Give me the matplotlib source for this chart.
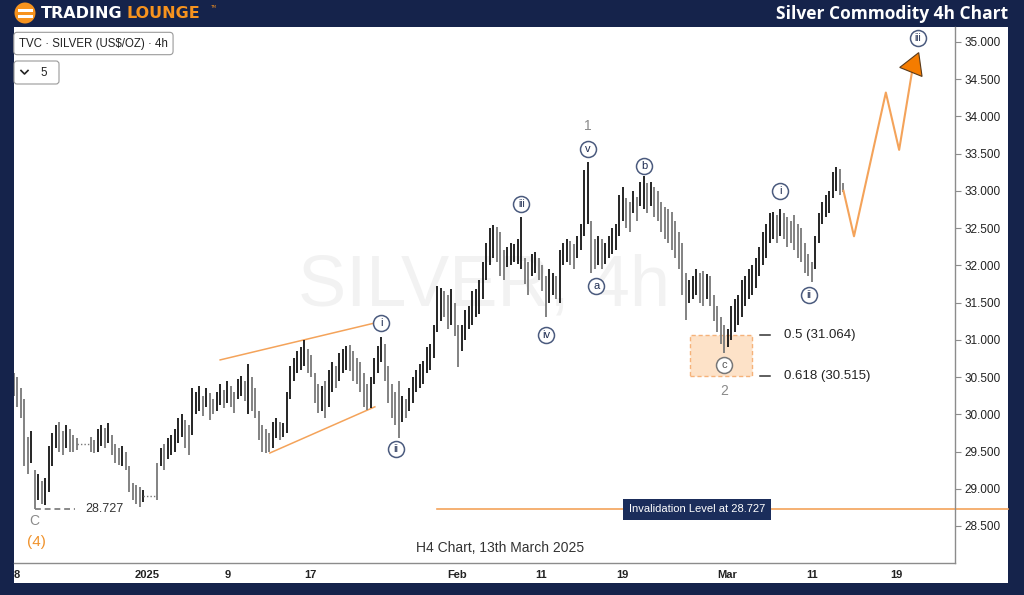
#!/usr/bin/env python3
"""Silver 4h Elliott-wave chart in the TradingLounge style."""

import matplotlib
matplotlib.use("Agg")
import matplotlib.pyplot as plt
import matplotlib.patches as mpatches
import matplotlib.transforms as mtransforms
import numpy as np

NAVY = "#15234b"
ORANGE = "#f4a35a"
WAVE_EDGE = "#4b5b7e"
WAVE_TEXT = "#1f2d52"
FONT = ["Liberation Sans", "DejaVu Sans"]
nan = np.nan

# 4h bars (high / low), one entry per bar; nan = holiday gap
highs = [
    30.55, 30.50, 30.35, 30.20, 29.70, 29.78, 29.25, 29.20, 29.10, 29.15,
    29.58, 29.75, 29.85, 29.90, 29.78, 29.85, 29.80, 29.72, 29.68, nan,
    nan, nan, 29.70, 29.65, 29.80, 29.85, 29.82, 29.88, 29.72, 29.60,
    29.55, 29.58, 29.50, 29.30, 29.08, 29.05, 29.02, 28.98, nan, nan,
    nan, 29.35, 29.55, 29.60, 29.68, 29.72, 29.80, 29.95, 30.00, 29.92,
    29.85, 30.35, 30.30, 30.38, 30.25, 30.35, 30.28, 30.20, 30.30, 30.40,
    30.32, 30.45, 30.38, 30.30, 30.48, 30.52, 30.45, 30.68, 30.50, 30.35,
    30.05, 29.85, 29.80, 29.75, 29.90, 29.95, 29.90, 29.88, 30.30, 30.65,
    30.75, 30.85, 30.90, 31.00, 30.88, 30.80, 30.55, 30.40, 30.38, 30.45,
    30.60, 30.70, 30.65, 30.82, 30.88, 30.92, 30.93, 30.85, 30.75, 30.70,
    30.55, 30.40, 30.50, 30.75, 30.92, 31.04, 30.95, 30.65, 30.40, 30.30,
    30.45, 30.25, 30.20, 30.35, 30.50, 30.60, 30.68, 30.72, 30.90, 30.95,
    31.20, 31.72, 31.70, 31.65, 31.60, 31.68, 31.50, 31.20, 31.20, 31.40,
    31.45, 31.65, 31.68, 31.80, 32.05, 32.30, 32.50, 32.54, 32.52, 32.45,
    32.20, 32.25, 32.30, 32.28, 32.35, 32.65, 32.10, 32.05, 32.15, 32.18,
    32.10, 32.00, 31.85, 31.95, 31.90, 31.85, 32.20, 32.30, 32.35, 32.32,
    32.28, 32.40, 32.55, 33.28, 33.39, 32.60, 32.35, 32.40, 32.35, 32.30,
    32.40, 32.50, 32.55, 32.95, 33.05, 32.90, 32.85, 33.00, 32.92, 33.12,
    33.20, 33.10, 33.12, 33.05, 33.00, 32.85, 32.78, 32.75, 32.72, 32.60,
    32.45, 32.30, 31.90, 31.80, 31.85, 31.95, 31.90, 31.92, 31.88, 31.85,
    31.60, 31.45, 31.30, 31.20, 31.15, 31.45, 31.55, 31.60, 31.80, 31.85,
    31.95, 32.00, 32.10, 32.25, 32.45, 32.55, 32.70, 32.72, 32.68, 32.76,
    32.70, 32.65, 32.60, 32.68, 32.55, 32.50, 32.30, 32.15, 32.05, 32.40,
    32.70, 32.85, 32.95, 33.00, 33.25, 33.32, 33.30, 33.10,
]
lows = [
    30.25, 30.10, 29.95, 29.30, 29.20, 29.35, 28.727, 28.85, 28.80, 28.78,
    28.95, 29.30, 29.55, 29.50, 29.45, 29.55, 29.50, 29.50, 29.52, nan,
    nan, nan, 29.50, 29.48, 29.50, 29.58, 29.55, 29.62, 29.45, 29.35,
    29.32, 29.30, 29.25, 28.95, 28.85, 28.80, 28.76, 28.82, nan, nan,
    nan, 28.85, 29.30, 29.25, 29.40, 29.45, 29.50, 29.62, 29.70, 29.55,
    29.45, 29.72, 30.00, 30.05, 29.98, 30.10, 29.92, 30.00, 30.05, 30.12,
    30.08, 30.15, 30.10, 30.02, 30.20, 30.25, 30.18, 30.00, 30.05, 29.95,
    29.65, 29.50, 29.48, 29.50, 29.55, 29.68, 29.65, 29.70, 29.75, 30.20,
    30.45, 30.55, 30.60, 30.65, 30.55, 30.50, 30.15, 30.02, 30.05, 29.95,
    30.10, 30.30, 30.35, 30.45, 30.55, 30.60, 30.58, 30.45, 30.40, 30.30,
    30.10, 30.06, 30.08, 30.40, 30.55, 30.70, 30.45, 30.15, 29.95, 29.85,
    29.68, 29.90, 29.95, 30.05, 30.15, 30.30, 30.35, 30.40, 30.55, 30.60,
    30.75, 31.10, 31.25, 31.30, 31.15, 31.20, 31.05, 30.64, 30.85, 31.00,
    31.15, 31.20, 31.30, 31.35, 31.55, 31.80, 32.00, 32.10, 32.05, 31.85,
    31.80, 31.98, 32.00, 32.05, 32.02, 31.95, 31.75, 31.60, 31.85, 31.90,
    31.80, 31.65, 31.31, 31.50, 31.60, 31.55, 31.50, 32.00, 32.05, 32.00,
    31.95, 32.10, 32.20, 32.40, 32.55, 31.90, 31.95, 32.00, 31.95, 32.02,
    32.10, 32.15, 32.20, 32.40, 32.60, 32.50, 32.45, 32.70, 32.60, 32.80,
    32.75, 32.70, 32.80, 32.65, 32.60, 32.45, 32.35, 32.30, 32.20, 32.10,
    31.95, 31.60, 31.27, 31.50, 31.55, 31.60, 31.50, 31.45, 31.55, 31.45,
    31.25, 31.10, 30.95, 30.82, 30.90, 31.00, 31.10, 31.20, 31.30, 31.45,
    31.55, 31.60, 31.70, 31.85, 32.00, 32.10, 32.30, 32.35, 32.30, 32.40,
    32.35, 32.25, 32.30, 32.20, 32.10, 32.05, 31.90, 31.85, 31.78, 31.95,
    32.30, 32.55, 32.65, 32.70, 32.90, 33.00, 32.95, 32.98,
]

# projected path (bar index, price) after the last bar
proj_x = [237, 240, 249.1, 252.9, 256.9]
proj_y = [33.0, 32.39, 34.32, 33.55, 34.69]

tick_pos = [0.9, 38, 61.1, 84.6, 126.6, 150.6, 173.7, 203.7, 228, 252]
tick_labels = ["8", "2025", "9", "17", "Feb", "11", "19", "Mar", "11", "19"]

invalidation = 28.727
fib_levels = [(0.5, 31.064), (0.618, 30.515)]

# wedge boundary lines (bar index, price)
wedge_upper = ([58.9, 103.1], [30.73, 31.226])
wedge_lower = ([73.1, 103.1], [29.48, 30.10])

# wave labels: bar index, text, anchor (high/low), pixel offset
waves = [
    (105, "i", "high", (0, 14)),
    (110, "ii", "low", (-3, -11)),
    (145, "iii", "high", (0, 13)),
    (152, "iv", "low", (0, -18)),
    (164, "v", "high", (0, 13)),
    (165, "a", "low", (5, -13)),
    (180, "b", "high", (0, 10)),
    (219, "i", "high", (0, 18)),
    (228, "ii", "low", (-3, -13)),
]

W, H = 1024, 595
fig = plt.figure(figsize=(W / 100, H / 100), dpi=100, facecolor=NAVY)

# background / frame in pixel coordinates
bg = fig.add_axes([0, 0, 1, 1], zorder=0)
bg.set_xlim(0, W)
bg.set_ylim(H, 0)
bg.axis("off")
bg.add_patch(mpatches.Rectangle((14, 27), 994, 556, color="white", lw=0))
bg.add_patch(mpatches.Circle((25, 13), 10.5, color="#f7931e", lw=0))
for yy in (9.2, 15.0):
    bg.add_patch(mpatches.Rectangle((17.5, yy), 15, 2.6, color="white", lw=0))
bg.text(41, 13.5, "TRADING", color="white", fontsize=11.5, fontweight="bold",
        va="center", ha="left", family="DejaVu Sans")
bg.text(127, 13.5, "LOUNGE", color="#f7931e", fontsize=11.5, fontweight="bold",
        va="center", ha="left", family="DejaVu Sans")
bg.text(210, 7, "TM", color="#f7931e", fontsize=3, va="center", ha="left")
bg.text(1008, 14, "Silver Commodity 4h Chart", color="white", fontsize=12.5,
        fontweight="bold", va="center", ha="right", family=["Open Sans", "DejaVu Sans"])
bg.text(19, 43.5, r"TVC · SILVER (US\$/OZ) · 4h", fontsize=8.3, va="center", ha="left",
        family=FONT, color="#222",
        bbox=dict(boxstyle="round,pad=0.45,rounding_size=0.3", fc="white", ec="#9a9a9a", lw=0.8))
bg.text(40, 72.5, "5", fontsize=8.3, va="center", ha="left", family=FONT, color="#222")
bg.add_patch(mpatches.FancyBboxPatch((14, 61), 45, 23, boxstyle="round,pad=0,rounding_size=3",
                                     fc="none", ec="#9a9a9a", lw=0.8))
bg.plot([21, 24.5, 28], [70.5, 74, 70.5], color="#222", lw=1.2)

# main price axes
ax = fig.add_axes([14 / W, (H - 563) / H, 941 / W, 536 / H], zorder=1)
ax.set_facecolor("none")
ax.set_xlim(0, 268.86)
ax.set_ylim(28.003, 35.20)

hi = np.array(highs, dtype=float)
lo = np.array(lows, dtype=float)
idx = np.arange(len(hi))
mid = (hi + lo) / 2
prev = np.concatenate([[mid[0]], mid[:-1]])
prev = np.where(np.isnan(prev), mid, prev)
cols = np.where(mid > prev, "#1c1c1c", "#7d7d7d")
ok = ~np.isnan(hi)
ax.vlines(idx[ok], lo[ok], hi[ok], colors=cols[ok], lw=1.35, zorder=3)

# dotted connectors across holiday gaps
gap = np.isnan(hi)
starts = np.where(gap & ~np.roll(gap, 1))[0]
for s in starts:
    e = s
    while gap[e]:
        e += 1
    level = mid[s - 1]
    ax.plot([s - 1, e], [level, level], ls=(0, (1, 1.5)), color="#777", lw=1, zorder=3)

ax.text(0.5, 0.515, "SILVER, 4h", transform=ax.transAxes, fontsize=52, color="#f2f2f2",
        ha="center", va="center", family=FONT, zorder=0)

# wedge
ax.plot(*wedge_upper, color=ORANGE, lw=1.1, zorder=2)
ax.plot(*wedge_lower, color=ORANGE, lw=1.1, zorder=2)

# projection
ax.plot(proj_x, proj_y, color=ORANGE, lw=1.5, zorder=4)
ax.plot(proj_x[-1], proj_y[-1], marker=(3, 0, -22), ms=20, mfc="#f57c00", mec="#5a3a1a",
        mew=0.8, zorder=5)

# C low dashed level
low_i = int(np.nanargmin(lo))
ax.plot([low_i, low_i + 11.5], [invalidation] * 2, ls=(0, (3, 2)), color="#888", lw=1.4, zorder=2)
ax.text(low_i + 14.5, invalidation, f"{invalidation:.3f}", fontsize=9, color="#333",
        va="center", ha="left", family=FONT)


def off(dx, dy):
    return mtransforms.offset_copy(ax.transData, fig=fig, x=dx, y=-dy, units="dots")


ax.text(low_i, invalidation, "C", transform=off(-1, 12), fontsize=10, color="#8a8a8a",
        ha="center", va="center", family=FONT)
ax.text(low_i, invalidation, "(4)", transform=off(1, 33), fontsize=11, color="#f0922b",
        ha="center", va="center", family=FONT)


def wave_label(x, y, s, dx, dy, edge=WAVE_EDGE, tcol=WAVE_TEXT):
    tr = mtransforms.offset_copy(ax.transData, fig=fig, x=dx, y=dy, units="dots")
    ax.plot([x], [y], "o", ms=11.5, mfc="white", mec=edge, mew=1.1, transform=tr, zorder=6)
    ax.text(x, y, s, transform=tr, fontsize=8 if len(s) < 3 else 7.2, color=tcol,
            ha="center", va="center", family=FONT, zorder=7)


for i, s, anchor, (dx, dy) in waves:
    y = hi[i] if anchor == "high" else lo[i]
    wave_label(i, y, s, dx, dy)

c_i = 203
wave_label(c_i, lo[c_i], "c", 0, -12, edge="#777", tcol="#555")
wave_label(proj_x[-1], proj_y[-1], "iii", 5, 27)

v_i = 164
ax.text(v_i, hi[v_i], "1", transform=off(0, -36), fontsize=10, color="#8a8a8a",
        ha="center", va="center", family=FONT)
ax.text(c_i, lo[c_i], "2", transform=off(0, 38), fontsize=10, color="#8a8a8a",
        ha="center", va="center", family=FONT)

# fib retracement zone
f_top, f_bot = fib_levels[0][1], fib_levels[1][1]
ax.add_patch(mpatches.Rectangle((193.1, f_bot), 17.8, f_top - f_bot, fc="#fde2c8", ec="#f5b27a",
                                ls=(0, (3, 2)), lw=1, zorder=1))
for r, lvl in fib_levels:
    ax.plot([213.1, 216.0], [lvl, lvl], color="#333", lw=1.1)
    ax.text(220, lvl, f"{r} ({lvl:.3f})", fontsize=9.5, color="#222", va="center",
            ha="left", family=FONT)

# invalidation level
ax.axhline(invalidation, xmin=(437 - 14) / 941, xmax=(1008 - 14) / 941, color=ORANGE,
           lw=1.2, clip_on=False, zorder=2)
ax.text(195.1, invalidation, f"Invalidation Level at {invalidation:.3f}", fontsize=8,
        color="white", ha="center", va="center", family=FONT, zorder=6,
        bbox=dict(boxstyle="square,pad=0.5", fc="#1b2d5b", ec="none"))

ax.text(0.5165, 0.028, "H4 Chart, 13th March 2025", transform=ax.transAxes, fontsize=10,
        color="#333", ha="center", va="center", family=FONT)

# axes styling
for side in ("left", "top"):
    ax.spines[side].set_visible(False)
for side in ("right", "bottom"):
    ax.spines[side].set_color("#8c8c8c")
    ax.spines[side].set_linewidth(1)
ax.yaxis.tick_right()
ax.set_yticks(np.arange(28.5, 35.01, 0.5))
ax.set_yticklabels([f"{v:.3f}" for v in np.arange(28.5, 35.01, 0.5)], family=FONT,
                   fontsize=8.5, color="#222")
ax.tick_params(axis="y", length=4, color="#8c8c8c", pad=3)
ax.set_xticks(tick_pos)
ax.set_xticklabels(tick_labels, family=FONT, fontsize=8, fontweight="bold", color="#222")
ax.tick_params(axis="x", length=0, pad=5)

fig.savefig("out.png", dpi=100, facecolor=NAVY)
